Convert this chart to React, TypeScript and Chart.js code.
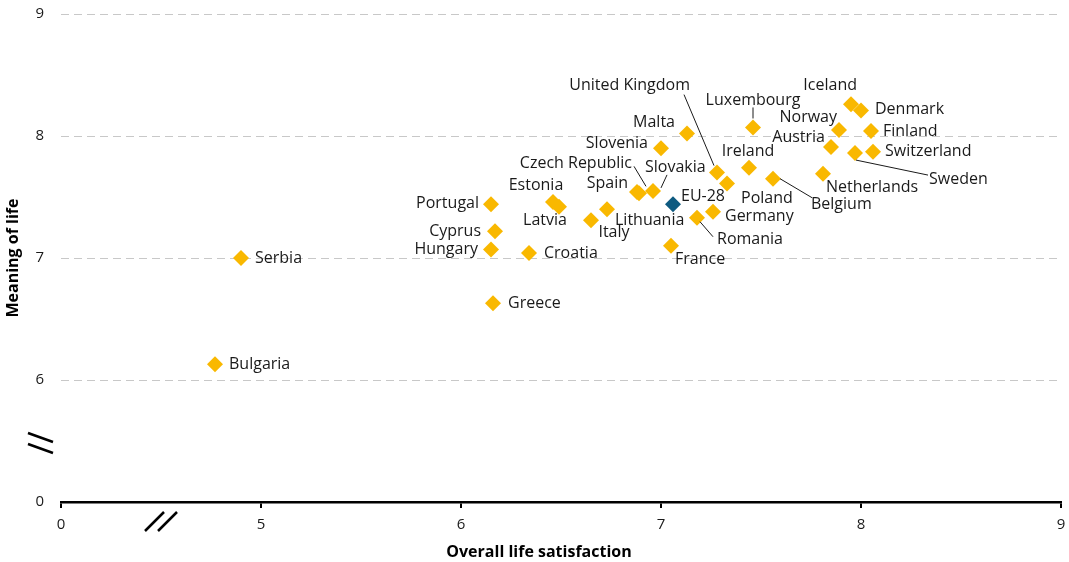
import React, { useEffect, useRef } from 'react';
import { Chart, registerables } from 'chart.js';

Chart.register(...registerables);

// ---- Data ----
const countries = [
  'Bulgaria', 'Serbia', 'Portugal', 'Cyprus', 'Hungary', 'Greece', 'Croatia',
  'Estonia', 'Latvia', 'Italy', 'Lithuania', 'Spain', 'Czech Republic', 'Slovakia',
  'Slovenia', 'Malta', 'France', 'Romania', 'Germany', 'United Kingdom', 'Poland',
  'Ireland', 'Luxembourg', 'Belgium', 'Netherlands', 'Austria', 'Norway', 'Iceland',
  'Denmark', 'Sweden', 'Switzerland', 'Finland',
];
const lifeSatisfaction = [
  4.77, 4.9, 6.15, 6.17, 6.15, 6.16, 6.34,
  6.46, 6.49, 6.65, 6.73, 6.88, 6.89, 6.96,
  7.0, 7.13, 7.05, 7.18, 7.26, 7.28, 7.33,
  7.44, 7.46, 7.56, 7.81, 7.85, 7.89, 7.95,
  8.0, 7.97, 8.06, 8.05,
];
const meaningOfLife = [
  6.13, 7.0, 7.44, 7.22, 7.07, 6.63, 7.04,
  7.46, 7.42, 7.31, 7.4, 7.54, 7.53, 7.55,
  7.9, 8.02, 7.1, 7.33, 7.38, 7.7, 7.61,
  7.74, 8.07, 7.65, 7.69, 7.91, 8.05, 8.26,
  8.21, 7.86, 7.87, 8.04,
];
const euName = ['EU-28'];
const euLifeSatisfaction = [7.06];
const euMeaningOfLife = [7.44];

// Broken axes: the first tick stands for 0
const xTickValues = [4, 5, 6, 7, 8, 9];
const xTickLabels = ['0', '5', '6', '7', '8', '9'];
const yTickValues = [5, 6, 7, 8, 9];
const yTickLabels = ['0', '6', '7', '8', '9'];
const xTitle = 'Overall life satisfaction';
const yTitle = 'Meaning of life';

// ---- Label placement (pixel offsets from the marker) ----
type Place = { dx: number; dy: number; align: CanvasTextAlign; leader?: [number, number, number, number] };
const placement: Record<string, Place> = {
  Bulgaria: { dx: 14, dy: 0, align: 'left' },
  Serbia: { dx: 14, dy: 0, align: 'left' },
  Portugal: { dx: -12, dy: -1, align: 'right' },
  Cyprus: { dx: -14, dy: 0, align: 'right' },
  Hungary: { dx: -13, dy: 0, align: 'right' },
  Greece: { dx: 15, dy: 0, align: 'left' },
  Croatia: { dx: 15, dy: 0, align: 'left' },
  Estonia: { dx: -17, dy: -16, align: 'center' },
  Latvia: { dx: -14, dy: 14, align: 'center' },
  Italy: { dx: 23, dy: 12, align: 'center' },
  Lithuania: { dx: 8, dy: 11, align: 'left' },
  Spain: { dx: -9, dy: -9, align: 'right' },
  'Czech Republic': { dx: -7, dy: -30, align: 'right', leader: [-5, -27, 7, -7] },
  Slovakia: { dx: -8, dy: -23, align: 'left', leader: [14, -16, 8, -3] },
  Slovenia: { dx: -13, dy: -5, align: 'right' },
  Malta: { dx: -12, dy: -11, align: 'right' },
  'EU-28': { dx: 8, dy: -8, align: 'left' },
  France: { dx: 4, dy: 14, align: 'left' },
  Romania: { dx: 20, dy: 22, align: 'left', leader: [3, 4, 16, 19] },
  Germany: { dx: 12, dy: 5, align: 'left' },
  'United Kingdom': { dx: -27, dy: -87, align: 'right', leader: [-33, -78, -3, -7] },
  Poland: { dx: 14, dy: 15, align: 'left' },
  Ireland: { dx: -1, dy: -16, align: 'center' },
  Luxembourg: { dx: 0, dy: -27, align: 'center', leader: [0, -20, 0, -9] },
  Belgium: { dx: 38, dy: 26, align: 'left', leader: [7, 0, 39, 19] },
  Netherlands: { dx: 3, dy: 14, align: 'left' },
  Austria: { dx: -6, dy: -10, align: 'right' },
  Norway: { dx: -2, dy: -12, align: 'right' },
  Iceland: { dx: 6, dy: -19, align: 'right' },
  Denmark: { dx: 14, dy: -1, align: 'left' },
  Sweden: { dx: 74, dy: 26, align: 'left', leader: [1, 7, 73, 22] },
  Switzerland: { dx: 12, dy: 0, align: 'left' },
  Finland: { dx: 12, dy: 0, align: 'left' },
};

const FONT = '"Open Sans", "Noto Sans", sans-serif';

const labelPlugin = {
  id: 'pointLabels',
  afterDatasetsDraw(chart: any) {
    const ctx = chart.ctx;
    ctx.save();
    ctx.font = `16px ${FONT}`;
    ctx.fillStyle = '#1a1a1a';
    ctx.strokeStyle = '#1a1a1a';
    ctx.lineWidth = 1;
    ctx.textBaseline = 'middle';
    chart.data.datasets.forEach((ds: any, di: number) => {
      const meta = chart.getDatasetMeta(di);
      meta.data.forEach((pt: any, i: number) => {
        const name = ds.names[i];
        const p = placement[name] || { dx: 12, dy: 0, align: 'left' };
        if (p.leader) {
          const [x1, y1, x2, y2] = p.leader;
          ctx.beginPath();
          ctx.moveTo(pt.x + x1, pt.y + y1);
          ctx.lineTo(pt.x + x2, pt.y + y2);
          ctx.stroke();
        }
        ctx.textAlign = p.align;
        ctx.fillText(name, pt.x + p.dx, pt.y + p.dy);
      });
    });
    ctx.restore();
  },
};

const axisExtrasPlugin = {
  id: 'axisExtras',
  afterDraw(chart: any) {
    const ctx = chart.ctx;
    const xs = chart.scales.x;
    const ys = chart.scales.y;
    const area = chart.chartArea;
    ctx.save();
    // break marks
    ctx.strokeStyle = '#000';
    ctx.lineWidth = 2.5;
    const bx = xs.getPixelForValue(4.5);
    const by = area.bottom;
    [-16, -3].forEach((o) => {
      ctx.beginPath();
      ctx.moveTo(bx + o, by + 29);
      ctx.lineTo(bx + o + 19, by + 10);
      ctx.stroke();
    });
    const yb = ys.getPixelForValue(5.5);
    [-5, 6].forEach((o) => {
      ctx.beginPath();
      ctx.moveTo(28, yb + o - 3);
      ctx.lineTo(53, yb + o + 6);
      ctx.stroke();
    });
    // x title
    ctx.font = `bold 16px ${FONT}`;
    ctx.fillStyle = '#000';
    ctx.textAlign = 'center';
    ctx.textBaseline = 'middle';
    ctx.fillText(xTitle, (area.left + area.right) / 2 - 22, area.bottom + 50);
    ctx.restore();
  },
};

export default function App() {
  const ref = useRef<HTMLCanvasElement | null>(null);
  useEffect(() => {
    if (!ref.current) return;
    const chart = new Chart(ref.current, {
      type: 'scatter',
      data: {
        datasets: [
          {
            label: 'Countries',
            names: countries,
            data: lifeSatisfaction.map((x, i) => ({ x, y: meaningOfLife[i] })),
            pointStyle: 'rectRot',
            pointRadius: 8,
            pointHoverRadius: 8,
            backgroundColor: '#F9B800',
            borderWidth: 0,
          } as any,
          {
            label: 'EU-28',
            names: euName,
            data: euLifeSatisfaction.map((x, i) => ({ x, y: euMeaningOfLife[i] })),
            pointStyle: 'rectRot',
            pointRadius: 8,
            pointHoverRadius: 8,
            backgroundColor: '#0E5A80',
            borderWidth: 0,
          } as any,
        ],
      },
      options: {
        animation: false,
        responsive: false,
        layout: { padding: { top: 14, right: 8, left: 0, bottom: 0 } },
        plugins: { legend: { display: false }, tooltip: { enabled: false } },
        scales: {
          x: {
            type: 'linear',
            min: 4,
            max: 9,
            afterFit: (s: any) => { s.height = 60; s.paddingLeft = 0; s.paddingRight = 0; },
            afterBuildTicks: (s: any) => { s.ticks = xTickValues.map((v) => ({ value: v })); },
            ticks: {
              callback: (v: any) => xTickLabels[xTickValues.indexOf(Number(v))] ?? '',
              font: { family: FONT, size: 15 },
              color: '#1a1a1a',
              padding: 8,
              maxRotation: 0,
            },
            grid: { drawOnChartArea: false, tickLength: 6, color: '#000', lineWidth: 2 },
            border: { display: true, color: '#000', width: 2.5 },
            title: { display: false },
          },
          y: {
            type: 'linear',
            min: 5,
            max: 9,
            afterFit: (s: any) => { s.width = 61; s.paddingTop = 0; s.paddingBottom = 0; },
            afterBuildTicks: (s: any) => { s.ticks = yTickValues.map((v) => ({ value: v })); },
            ticks: {
              callback: (v: any) => yTickLabels[yTickValues.indexOf(Number(v))] ?? '',
              font: { family: FONT, size: 15 },
              color: '#1a1a1a',
              padding: 17,
            },
            grid: {
              drawTicks: false,
              color: (c: any) => (c.tick && c.tick.value === 5 ? 'rgba(0,0,0,0)' : '#c8c8c8'),
              lineWidth: 1,
            },
            border: { display: false, dash: [8, 5] },
            title: {
              display: true,
              text: yTitle,
              font: { family: FONT, size: 16, weight: 'bold' },
              color: '#000',
              padding: { top: 4, bottom: 4 },
            },
          },
        },
      },
      plugins: [labelPlugin, axisExtrasPlugin],
    } as any);
    return () => chart.destroy();
  }, []);
  return (
    <div style={{ position: 'fixed', left: 0, top: 0, width: 1069, height: 562, background: '#fff' }}>
      <canvas ref={ref} width={1069} height={562} style={{ display: 'block' }} />
    </div>
  );
}
